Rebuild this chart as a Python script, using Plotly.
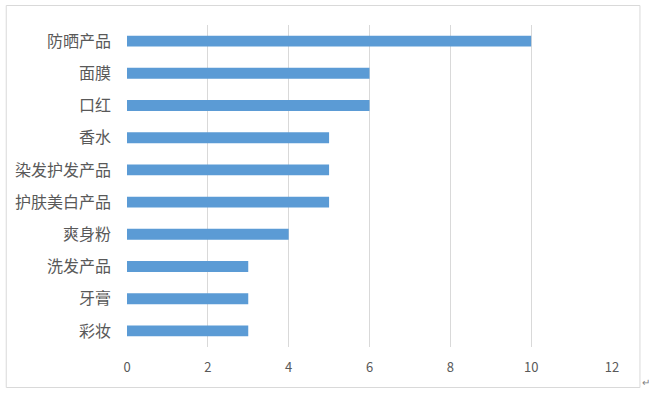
import plotly.graph_objects as go

categories = ["防晒产品", "面膜", "口红", "香水", "染发护发产品", "护肤美白产品", "爽身粉", "洗发产品", "牙膏", "彩妆"]
values = [10, 6, 6, 5, 5, 5, 4, 3, 3, 3]
x_ticks = [0, 2, 4, 6, 8, 10, 12]

W, H = 649, 395
L, R, T, B = 126.5, 36.5, 25, 48
pw, ph = W - L - R, H - T - B

def px(x):
    return (x - L) / pw

def py(y):
    return 1 - (y - T) / ph

fig = go.Figure(go.Bar(
    x=values, y=categories, orientation="h",
    marker=dict(color="#5B9BD5", line=dict(width=0)),
    width=0.34,
))

fig.update_layout(
    width=W, height=H,
    margin=dict(l=L, r=R, t=T, b=B, pad=0),
    paper_bgcolor="white", plot_bgcolor="white",
    font=dict(family="Noto Sans CJK SC, Microsoft YaHei, sans-serif", color="#595959"),
    showlegend=False,
    xaxis=dict(range=[0, 12], tickvals=x_ticks, showgrid=True, gridcolor="#D9D9D9", gridwidth=1,
               zeroline=False, showline=False, ticks="", tickfont=dict(size=13, color="#595959"),
               ticklabelstandoff=11),
    yaxis=dict(autorange="reversed", showgrid=False, zeroline=False, showline=False, ticks="",
               tickfont=dict(size=16, color="#595959"), ticklabelstandoff=15),
    shapes=[dict(type="rect", xref="paper", yref="paper",
                 x0=px(5.5), x1=px(640.5), y0=py(387.5), y1=py(5.5),
                 line=dict(color="#D9D9D9", width=1), fillcolor="rgba(0,0,0,0)")],
    annotations=[dict(text="↵", xref="paper", yref="paper", x=px(641), y=py(381),
                      xanchor="left", yanchor="middle", showarrow=False,
                      font=dict(size=10, color="#7F7F7F"))],
)

fig.write_html("out.html", config={"displayModeBar": False},
               post_script="document.body.style.margin='0';document.body.style.overflow='hidden';")
